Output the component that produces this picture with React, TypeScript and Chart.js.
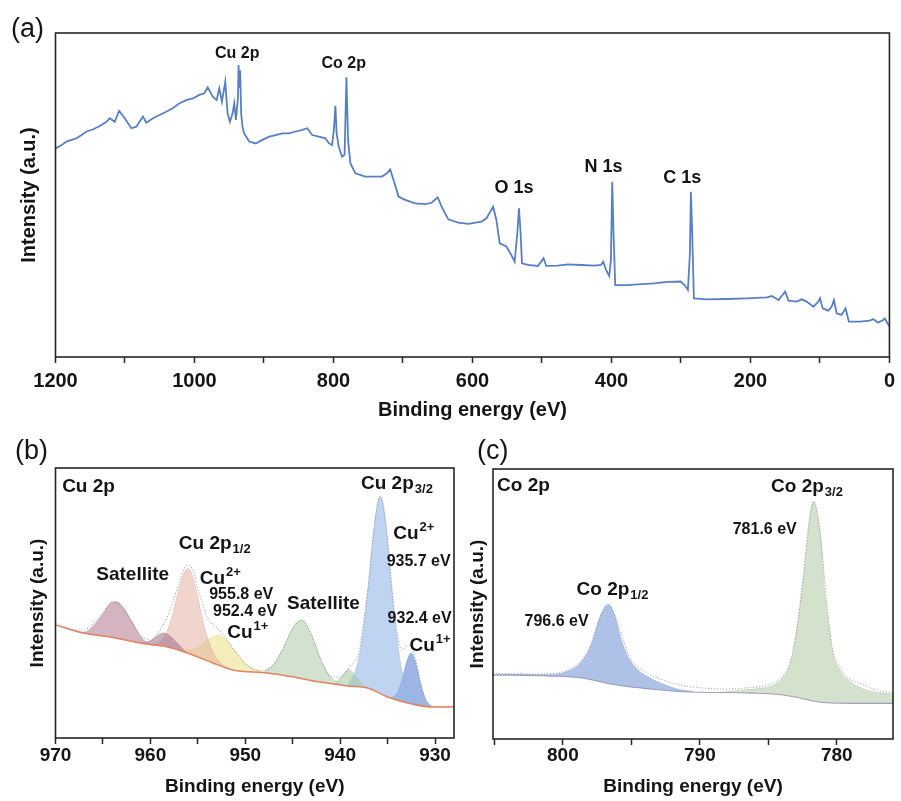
import React, { useEffect, useRef } from "react";
import { Chart, registerables } from "chart.js";

Chart.register(...registerables);

const FONT = "'Liberation Sans', Arial, sans-serif";
const INK = "#151515";

// ---------- (a) survey spectrum ----------
const surveyEnergy = [
  1200, 1191.2, 1184, 1176.8, 1169.7, 1162.5, 1155.3, 1145.8, 1136.2, 1126.7, 1121.9, 1114.8, 1108.5, 1100.4, 1090.9, 1083.7, 1074.2, 1069.4, 1059.8, 1050.3,
  1040.7, 1031.2, 1021.6, 1012.1, 1002.5, 993, 985.8, 981, 973.9, 968.1, 964.3, 960.5, 955.7, 952.4, 949, 945.2, 942.8, 940.4, 937.5, 936.6,
  935.3, 934.3, 932.8, 930.9, 928.5, 921.3, 911.8, 902.2, 892.7, 883.1, 873.6, 864, 854.5, 844.9, 837.8, 830.6, 821.1, 811.5, 806.7, 802,
  799.5, 797.2, 795.5, 792.4, 787.6, 784, 781.4, 779, 775.7, 768.5, 754.2, 730.3, 723.2, 718.4, 713.6, 706.4, 696.9, 682.5, 668.2, 658.7,
  650.1, 644.4, 634.8, 620.5, 606.1, 587, 579.9, 570.3, 565.6, 560.8, 551.2, 544.1, 539.3, 535.5, 533.1, 530.7, 528.8, 520.2, 505.8, 497.7,
  493.9, 477.2, 462.8, 443.8, 424.7, 415.1, 411.8, 407.8, 403.2, 400.8, 398.9, 397, 394.6, 376.9, 357.8, 338.7, 319.6, 300.5, 294.8, 290,
  287.1, 285.7, 283.8, 281.4, 262.3, 233.7, 205, 176.4, 169.2, 159.6, 150.1, 145.3, 133.4, 126.2, 119.1, 109.5, 102.3, 99.9, 96.1, 88,
  83.2, 79.9, 76, 68.9, 63.1, 58.4, 42.6, 28.3, 23.5, 16.3, 9.2, 6.8, 0,
];
const surveyIntensity = [
  64.4, 65.4, 66.5, 67.0, 67.5, 68.5, 69.6, 70.3, 71.3, 72.6, 73.7, 72.6, 76.0, 73.7, 70.6, 71.1, 74.2, 72.3, 73.7, 74.7,
  75.7, 76.8, 78.3, 79.3, 79.8, 80.9, 81.4, 83.2, 80.4, 79.3, 82.9, 78.8, 85.0, 75.2, 72.6, 75.2, 78.3, 73.2, 80, 90.1,
  83, 88.5, 75, 71, 69.0, 66.5, 65.9, 67.0, 68.0, 68.5, 69.0, 69.0, 69.6, 70.1, 70.6, 68.5, 68.0, 67.5, 66.0, 65.4,
  70, 77.5, 69, 64.9, 61.8, 62.5, 86.3, 67.0, 59.8, 56.7, 55.7, 55.7, 56.7, 57.9, 54.6, 49.5, 48.5, 47.4, 47.2, 47.6,
  49.3, 46.4, 42.5, 41.5, 41.1, 41.8, 42.8, 46.4, 42.3, 35.1, 34.1, 31.5, 29.4, 38.2, 45.9, 38.2, 28.9, 28.4, 28.1, 30.5,
  28.1, 28.2, 28.6, 28.4, 28.2, 28.4, 29.4, 26.9, 25.0, 29.9, 54.1, 38.2, 22.2, 22.2, 22.5, 22.7, 23.2, 23.3, 22.2, 20.7,
  32.0, 51.0, 38.2, 18.1, 17.8, 17.9, 18.1, 18.4, 18.8, 17.6, 20.2, 17.4, 17.1, 17.8, 17.1, 15.5, 17.1, 18.1, 15.0, 14.3,
  15.5, 17.6, 13.5, 13.0, 15.0, 10.9, 10.9, 11.2, 11.7, 10.6, 11.4, 11.9, 9.4,
];

// ---------- (b) Cu 2p ----------
const cuRawEnergy = [
  970, 969, 968, 967, 966, 965, 964, 963, 962, 961, 960, 959, 958, 957, 956.5, 956, 955.5, 955, 954, 953,
  952, 951, 950, 949, 948, 947, 946, 945, 944, 943, 942, 941, 940, 939, 938, 937.5, 937, 936.5, 936, 935.75,
  935.5, 935, 934.5, 934, 933.5, 933, 932.5, 932, 931.5, 931, 930, 929, 928,
];
const cuRawIntensity = [
  42.5, 41.0, 40.0, 40.0, 42.5, 46.5, 50.5, 48.5, 43.0, 38.0, 36.3, 39.9, 46.7, 57.4, 62.5, 64.0, 62.0, 55.5, 44.7, 40.8,
  36.7, 31.8, 27.6, 25.3, 24.9, 27.3, 33.2, 40.7, 43.7, 38.0, 28.8, 22.7, 22.6, 26.4, 32.2, 43.5, 57.5, 75.5, 87.7, 89.5,
  87.2, 73.5, 54.0, 39.5, 32.7, 34.0, 34.3, 28.5, 20.2, 14.4, 11.7, 11.8, 11.8,
];
const cuBgEnergy = [970, 967.1, 964.2, 961.1, 958.2, 956.1, 953.4, 951.3, 947.7, 944.9, 942.1, 939.2, 937.1, 935, 932.9, 930.5, 928];
const cuBgIntensity = [41.9, 38.9, 37.4, 35.2, 33.7, 31.5, 27.8, 25.2, 24.1, 22.6, 20.7, 19.3, 18.5, 15.2, 13, 11.5, 11.5];

const cuSat1Energy = [968, 967, 966, 965, 964.2, 963.6, 963, 962, 961, 960, 959.5];
const cuSat1Intensity = [39.8, 39.2, 41.5, 46.0, 50.0, 50.5, 49.0, 43.5, 37.5, 34.6, 34.4];
const cuSat1bEnergy = [961, 960, 959.2, 958.6, 958, 957, 956.2];
const cuSat1bIntensity = [35.2, 36.0, 38.0, 38.9, 38.0, 34.5, 31.6];
const cu12Cu2Energy = [960, 959, 958.3, 957.6, 956.9, 956.3, 956, 955.6, 955, 954.3, 953.5, 952.5, 951.5];
const cu12Cu2Intensity = [34.4, 35.5, 39.0, 46.5, 56.5, 62.0, 62.8, 60.5, 52.0, 41.0, 32.5, 27.5, 25.5];
const cu12Cu1Energy = [956.5, 955.5, 954.5, 953.5, 952.7, 952, 951, 950, 949, 948];
const cu12Cu1Intensity = [32.5, 32.8, 34.7, 37.3, 38.0, 36.3, 31.8, 27.6, 25.3, 24.3];
const cuSat2Energy = [948, 947, 946, 945, 944.1, 943, 942, 941, 940];
const cuSat2Intensity = [24.9, 27.3, 33.2, 40.7, 43.7, 38.0, 28.8, 22.7, 20.1];
const cuSat2bEnergy = [940.6, 939.8, 939.1, 938.4, 937.7, 937];
const cuSat2bIntensity = [20.0, 23.0, 25.5, 23.0, 19.8, 18.5];
const cu32Cu2Energy = [939.2, 938.5, 938, 937.5, 937, 936.5, 936, 935.75, 935.5, 935, 934.5, 934, 933.5, 933, 932.5, 932, 931.5, 931];
const cu32Cu2Intensity = [19.5, 24, 30, 42, 57.5, 75.5, 87.7, 89.2, 87, 73, 53, 37, 25, 19, 15.5, 13.5, 12.5, 11.9];
const cu32Cu1Energy = [934.5, 934, 933.5, 933, 932.5, 932, 931.5, 931, 930.5, 930];
const cu32Cu1Intensity = [15.2, 16.7, 21.3, 28.1, 31.5, 27.4, 19.8, 14.3, 12.0, 11.5];

// ---------- (c) Co 2p ----------
const coRawEnergy = [
  805.1, 804, 803, 802, 801, 800.5, 800, 799.5, 799, 798.5, 798, 797.5, 797, 796.65, 796.3, 796, 795.6, 795.2, 794.8, 794.2,
  793.5, 792.5, 791.5, 790.5, 789.5, 788.5, 787.5, 786.5, 785.5, 784.5, 784, 783.5, 783, 782.5, 782, 781.7, 781.4, 781, 780.6, 780.3,
  779.8, 779.3, 778.8, 778, 777.3, 776.5, 775.9,
];
const coRawIntensity = [
  24.3, 24.2, 24.1, 24.0, 24.2, 24.3, 24.8, 25.8, 27.3, 30.0, 34.5, 42.0, 48.5, 49.8, 47.0, 43.0, 37.0, 31.0, 28.0, 25.5,
  23.5, 21.5, 20.0, 19.2, 18.8, 18.5, 18.6, 19.0, 19.5, 21.0, 22.8, 27.0, 38.0, 58.0, 81.0, 88.0, 83.0, 65.0, 44.0, 33.0,
  26.5, 23.0, 21.5, 20.0, 18.5, 17.5, 17.2,
];
const coBgEnergy = [805.1, 800.9, 798.5, 797.3, 795.6, 793.6, 791.2, 786.3, 783.9, 782.7, 781.5, 779, 775.9];
const coBgIntensity = [23.7, 23.3, 22.5, 21.2, 19.6, 18.5, 17.5, 17.0, 16.3, 15.2, 13.8, 13.2, 13.2];
const co12Energy = [805.1, 803, 801.5, 800.5, 799.7, 798.75, 798, 797.3, 796.9, 796.65, 796.2, 795.8, 795.3, 794.6, 793.6, 792.5, 791.5, 790.5];
const co12Intensity = [23.9, 24.0, 23.8, 24.0, 25.0, 28.0, 34.0, 45.0, 49.0, 49.6, 45.5, 38.0, 31.0, 26.0, 22.5, 20.0, 18.3, 17.6];
const co32Energy = [788.5, 787.1, 785.6, 784.6, 783.9, 783.4, 783.05, 782.7, 782.3, 782, 781.7, 781.4, 781.1, 780.9, 780.6, 780.3, 779.8, 778.8, 777.3, 775.9];
const co32Intensity = [17.3, 18.1, 18.8, 20.0, 23.0, 28.0, 36.5, 49.0, 66.0, 81.0, 87.8, 82.5, 71.0, 55.5, 43.0, 32.0, 25.5, 20.5, 17.5, 16.8];

// ---------- peak labels (energy, intensity at cap centre) ----------
type Label = { text: string; x: number; y: number; size: number; sub?: string; sup?: string; center?: boolean };

const surveyLabels: Label[] = [
  { text: "Cu 2p", x: 938.5, y: 94.1, size: 16, center: true },
  { text: "Co 2p", x: 785.2, y: 91.0, size: 16, center: true },
  { text: "O 1s", x: 540.3, y: 52.6, size: 18, center: true },
  { text: "N 1s", x: 411.3, y: 59.1, size: 18, center: true },
  { text: "C 1s", x: 298.1, y: 55.6, size: 18, center: true },
];
const cuLabels: Label[] = [
  { text: "Cu 2p", x: 969.3, y: 93.7, size: 19 },
  { text: "Satellite", x: 965.7, y: 61.1, size: 19 },
  { text: "Cu 2p", sub: "1/2", x: 957.0, y: 72.6, size: 19 },
  { text: "Cu", sup: "2+", x: 954.8, y: 59.6, size: 19 },
  { text: "955.8 eV", x: 953.8, y: 53.5, size: 16 },
  { text: "952.4 eV", x: 953.4, y: 47.2, size: 16 },
  { text: "Cu", sup: "1+", x: 951.9, y: 39.6, size: 19 },
  { text: "Satellite", x: 945.6, y: 50.4, size: 19 },
  { text: "Cu 2p", sub: "3/2", x: 937.8, y: 94.8, size: 19 },
  { text: "Cu", sup: "2+", x: 934.4, y: 76.3, size: 19 },
  { text: "935.7 eV", x: 935.1, y: 65.7, size: 16 },
  { text: "932.4 eV", x: 935.0, y: 44.8, size: 16 },
  { text: "Cu", sup: "1+", x: 932.7, y: 34.8, size: 19 },
];
const coLabels: Label[] = [
  { text: "Co 2p", x: 804.8, y: 94.3, size: 19 },
  { text: "Co 2p", sub: "3/2", x: 784.8, y: 94.1, size: 19 },
  { text: "781.6 eV", x: 787.6, y: 78.1, size: 16 },
  { text: "Co 2p", sub: "1/2", x: 799.0, y: 55.9, size: 19 },
  { text: "796.6 eV", x: 802.8, y: 43.9, size: 16 },
];

const pts = (xs: number[], ys: number[]) => xs.map((x, i) => ({ x, y: ys[i] }));

// frame around the plot, panel letter and peak labels
const panelDecor = {
  id: "panelDecor",
  afterDraw(chart: any, _args: any, opts: any) {
    const { ctx, chartArea } = chart;
    const xs = chart.scales.x;
    const ys = chart.scales.y;
    ctx.save();
    ctx.strokeStyle = "#262626";
    ctx.lineWidth = 1.6;
    ctx.strokeRect(chartArea.left, chartArea.top, chartArea.right - chartArea.left, chartArea.bottom - chartArea.top);

    ctx.fillStyle = INK;
    ctx.textBaseline = "alphabetic";
    ctx.textAlign = "left";
    ctx.font = `normal 27px ${FONT}`;
    ctx.fillText(opts.letter, opts.letterX, opts.letterY);

    for (const l of opts.labels as Label[]) {
      const px = xs.getPixelForValue(l.x);
      const base = ys.getPixelForValue(l.y) + 0.36 * l.size;
      const small = Math.round(l.size * 0.68);
      ctx.font = `bold ${l.size}px ${FONT}`;
      const w = ctx.measureText(l.text).width;
      let extra = 0;
      if (l.sub || l.sup) {
        ctx.font = `bold ${small}px ${FONT}`;
        extra = ctx.measureText(l.sub || l.sup || "").width + 1;
      }
      const left = l.center ? px - (w + extra) / 2 : px;
      ctx.font = `bold ${l.size}px ${FONT}`;
      ctx.fillText(l.text, left, base);
      if (l.sub) {
        ctx.font = `bold ${small}px ${FONT}`;
        ctx.fillText(l.sub, left + w + 1, base + l.size * 0.24);
      }
      if (l.sup) {
        ctx.font = `bold ${small}px ${FONT}`;
        ctx.fillText(l.sup, left + w + 1, base - l.size * 0.42);
      }
    }
    ctx.restore();
  },
};

type AxisSpec = {
  min: number;
  max: number;
  step: number;
  labelEvery: number;
  fontSize: number;
  yWidth: number;
  xHeight: number;
  tickPad: number;
  xTitlePad: number;
  yTitlePad: number;
};

function makeOptions(a: AxisSpec, padding: any, decor: any) {
  return {
    responsive: false,
    animation: false,
    layout: { padding },
    plugins: { legend: { display: false }, tooltip: { enabled: false }, panelDecor: decor },
    elements: { point: { radius: 0 } },
    scales: {
      x: {
        type: "linear",
        min: a.min,
        max: a.max,
        reverse: true,
        afterFit: (s: any) => {
          s.height = a.xHeight;
        },
        ticks: {
          stepSize: a.step,
          autoSkip: false,
          maxTicksLimit: 200,
          includeBounds: false,
          maxRotation: 0,
          padding: a.tickPad,
          color: INK,
          font: { family: FONT, size: a.fontSize, weight: "bold" },
          callback: (v: any) => (Math.abs(v % a.labelEvery) < 1e-6 ? String(v) : ""),
        },
        grid: {
          display: true,
          drawOnChartArea: false,
          drawTicks: true,
          tickLength: 6,
          tickColor: "#262626",
          tickWidth: 1.5,
        },
        border: { display: false },
        title: {
          display: true,
          text: "Binding energy (eV)",
          color: INK,
          font: { family: FONT, size: a.fontSize, weight: "bold" },
          padding: { top: 0, bottom: a.xTitlePad },
        },
      },
      y: {
        type: "linear",
        min: 0,
        max: 100,
        afterFit: (s: any) => {
          s.width = a.yWidth;
        },
        ticks: { display: false },
        grid: { display: false },
        border: { display: false },
        title: {
          display: true,
          text: "Intensity (a.u.)",
          color: INK,
          font: { family: FONT, size: a.fontSize, weight: "bold" },
          padding: { top: a.yTitlePad, bottom: 0 },
        },
      },
    },
  };
}

function component(xs: number[], ys: number[], fillColor: string, edge: string) {
  return {
    data: pts(xs, ys),
    borderColor: edge,
    borderWidth: 0.8,
    backgroundColor: fillColor,
    fill: { target: 0, above: fillColor, below: fillColor },
    cubicInterpolationMode: "monotone",
    pointRadius: 0,
    order: 3,
  };
}

function backgroundLine(xs: number[], ys: number[], color: string, width: number) {
  return {
    data: pts(xs, ys),
    borderColor: color,
    borderWidth: width,
    fill: false,
    cubicInterpolationMode: "monotone",
    pointRadius: 0,
    order: 0,
  };
}

function rawLine(xs: number[], ys: number[]) {
  return {
    data: pts(xs, ys),
    borderColor: "rgba(140,140,140,0.7)",
    borderWidth: 1.1,
    borderDash: [1.2, 1.8],
    fill: false,
    cubicInterpolationMode: "monotone",
    pointRadius: 0,
    order: 1,
  };
}

function surveyConfig(): any {
  return {
    type: "line",
    data: {
      datasets: [
        {
          data: pts(surveyEnergy, surveyIntensity),
          borderColor: "rgb(88,128,192)",
          borderWidth: 1.8,
          tension: 0,
          fill: false,
          pointRadius: 0,
        },
      ],
    },
    options: makeOptions(
      { min: 0, max: 1200, step: 100, labelEvery: 200, fontSize: 20, yWidth: 55.5, xHeight: 73, tickPad: 6, xTitlePad: 8, yTitlePad: 17.5 },
      { top: 33, right: 8, left: 0, bottom: 0 },
      { letter: "(a)", letterX: 11, letterY: 37, labels: surveyLabels }
    ),
    plugins: [panelDecor],
  };
}

function cuConfig(): any {
  return {
    type: "line",
    data: {
      datasets: [
        backgroundLine(cuBgEnergy, cuBgIntensity, "rgb(226,130,100)", 1.5),
        rawLine(cuRawEnergy, cuRawIntensity),
        component(cuSat1Energy, cuSat1Intensity, "rgba(185,130,152,0.6)", "rgba(170,120,140,0.5)"),
        component(cuSat1bEnergy, cuSat1bIntensity, "rgba(160,110,140,0.55)", "rgba(150,100,130,0.5)"),
        component(cu12Cu2Energy, cu12Cu2Intensity, "rgba(228,175,158,0.52)", "rgba(210,160,145,0.5)"),
        component(cu12Cu1Energy, cu12Cu1Intensity, "rgba(236,226,140,0.6)", "rgba(215,205,130,0.5)"),
        component(cuSat2Energy, cuSat2Intensity, "rgba(180,205,170,0.58)", "rgba(165,190,155,0.5)"),
        component(cuSat2bEnergy, cuSat2bIntensity, "rgba(168,200,158,0.58)", "rgba(155,185,145,0.5)"),
        component(cu32Cu2Energy, cu32Cu2Intensity, "rgba(152,186,230,0.62)", "rgba(140,170,215,0.5)"),
        component(cu32Cu1Energy, cu32Cu1Intensity, "rgba(100,135,210,0.62)", "rgba(90,120,195,0.5)"),
      ],
    },
    options: makeOptions(
      { min: 928, max: 970, step: 5, labelEvery: 10, fontSize: 19, yWidth: 55.5, xHeight: 63, tickPad: 0, xTitlePad: 3, yTitlePad: 26 },
      { top: 38, right: 1, left: 0, bottom: 0 },
      { letter: "(b)", letterX: 15, letterY: 29, labels: cuLabels }
    ),
    plugins: [panelDecor],
  };
}

function coConfig(): any {
  return {
    type: "line",
    data: {
      datasets: [
        backgroundLine(coBgEnergy, coBgIntensity, "rgba(135,130,170,0.75)", 1.1),
        rawLine(coRawEnergy, coRawIntensity),
        component(co12Energy, co12Intensity, "rgba(140,168,222,0.7)", "rgba(130,155,210,0.5)"),
        component(co32Energy, co32Intensity, "rgba(196,214,186,0.72)", "rgba(180,200,170,0.5)"),
      ],
    },
    options: makeOptions(
      { min: 775.9, max: 805.1, step: 5, labelEvery: 10, fontSize: 19, yWidth: 38, xHeight: 62, tickPad: -1, xTitlePad: 3, yTitlePad: 11 },
      { top: 39, right: 8, left: 0, bottom: 0 },
      { letter: "(c)", letterX: 22, letterY: 29, labels: coLabels }
    ),
    plugins: [panelDecor],
  };
}

function Panel(props: { left: number; top: number; width: number; height: number; build: () => any }) {
  const ref = useRef<HTMLCanvasElement | null>(null);
  useEffect(() => {
    if (!ref.current) return;
    const chart = new Chart(ref.current, props.build());
    return () => chart.destroy();
  }, []);
  return (
    <canvas
      ref={ref}
      width={props.width}
      height={props.height}
      style={{ position: "absolute", left: props.left, top: props.top, width: props.width, height: props.height }}
    />
  );
}

export default function App() {
  return (
    <div style={{ position: "absolute", left: 0, top: 0, width: 901, height: 801, background: "#ffffff", overflow: "hidden" }}>
      <Panel left={0} top={0} width={901} height={430} build={surveyConfig} />
      <Panel left={0} top={430} width={455} height={371} build={cuConfig} />
      <Panel left={455} top={430} width={446} height={371} build={coConfig} />
    </div>
  );
}
